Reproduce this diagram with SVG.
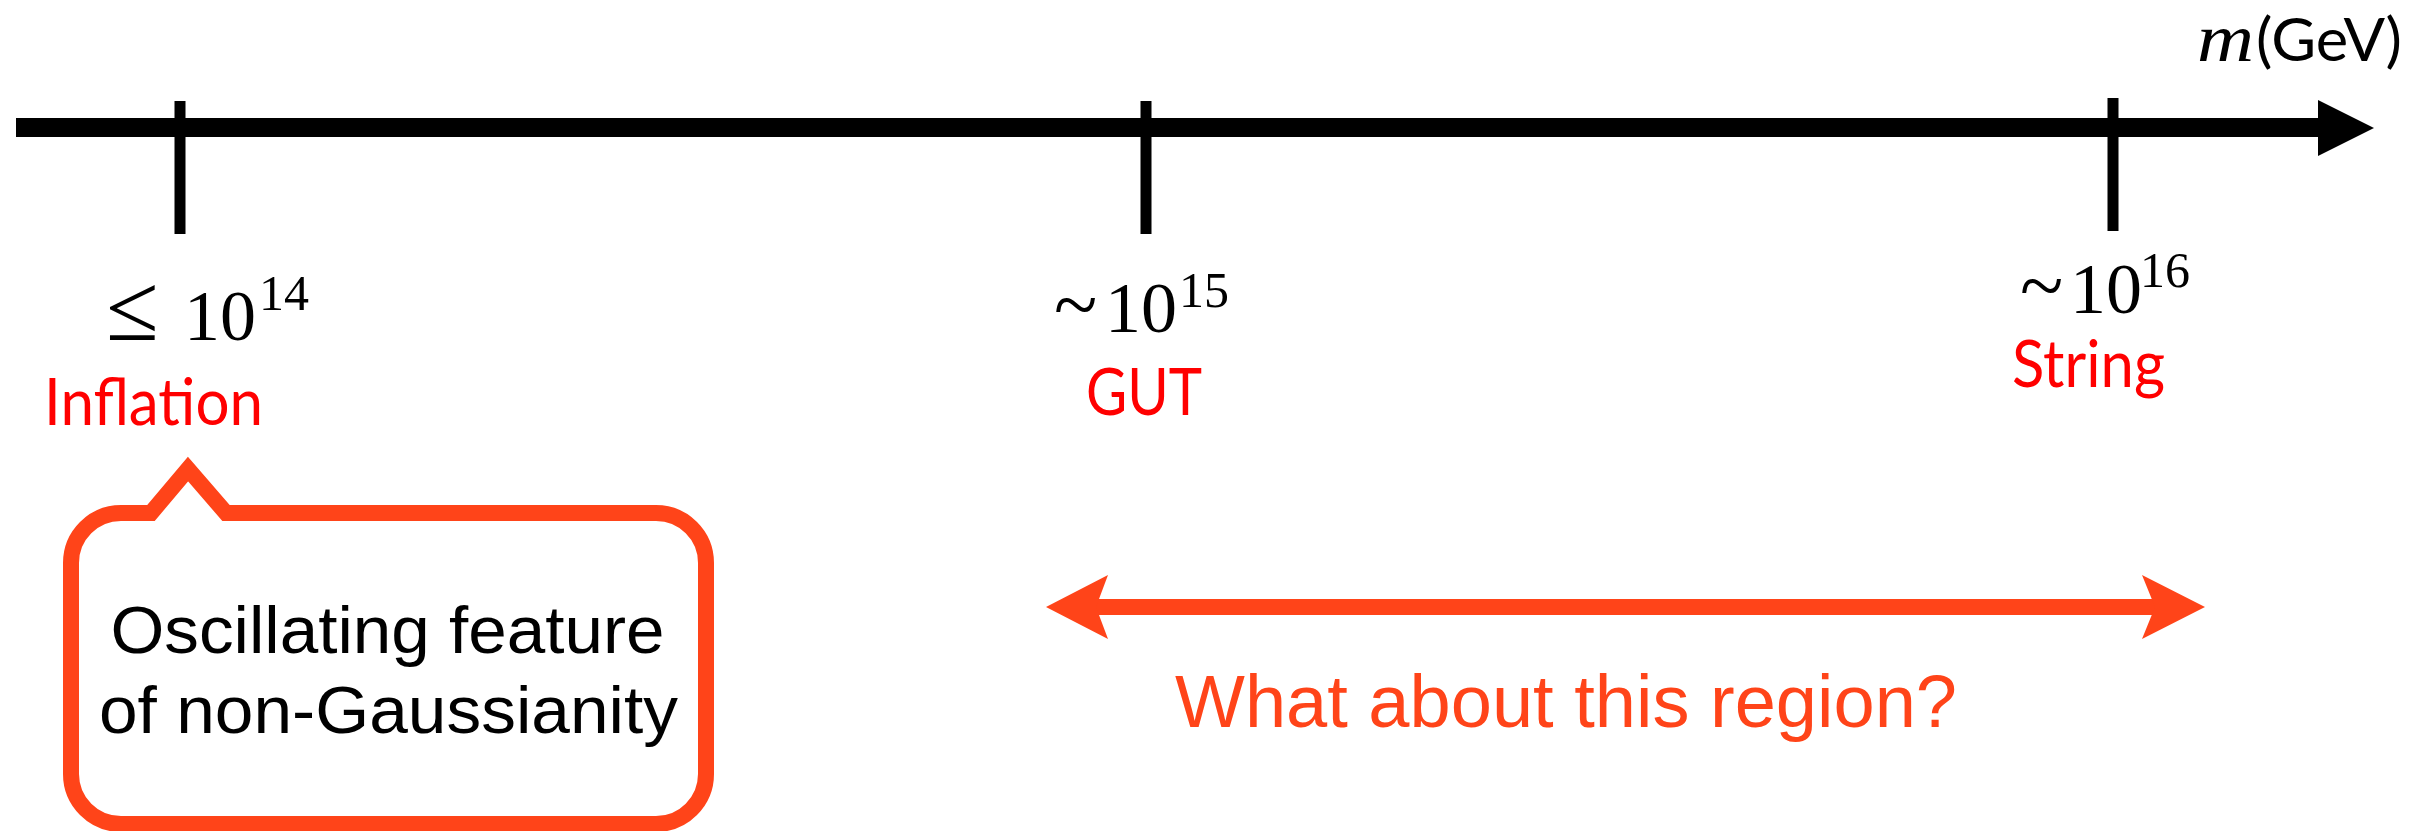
<svg xmlns="http://www.w3.org/2000/svg" width="2435" height="831" viewBox="0 0 2435 831">
  <style>
    .math { font-family: "Liberation Serif", "DejaVu Serif", serif; fill: #000; font-size: 72px; }
    .sup { font-size: 50px; }
    .red { font-family: Lato, "Open Sans", sans-serif; fill: #FF0000; font-size: 65px; }
    .callout-text { font-family: "Liberation Sans", Arial, sans-serif; fill: #000; font-size: 67px; }
    .orange { fill: #FF4419; }
    .tick { fill: #000; }
  </style>
  <rect width="2435" height="831" fill="#ffffff"/>

  <g id="axis">
    <line x1="16" y1="127.5" x2="2322" y2="127.5" stroke="#000" stroke-width="19"/>
    <polygon points="2318,100 2374,128 2318,156" fill="#000"/>
    <text x="2197" y="61" font-family="'Liberation Serif', serif" font-style="italic" font-size="67" fill="#000" textLength="57" lengthAdjust="spacingAndGlyphs">m</text>
    <text x="2256" y="61" font-family="Lato, 'Open Sans', sans-serif" font-size="60" fill="#000" textLength="146" lengthAdjust="spacingAndGlyphs">(GeV)</text>
  </g>

  <g id="node-inflation">
    <rect class="tick" x="174.5" y="101" width="11" height="133"/>
    <text y="340" class="math"><tspan x="106" font-size="96">≤</tspan><tspan x="184">10</tspan><tspan x="259" y="310" class="sup">14</tspan></text>
    <text x="44" y="425" class="red" textLength="219" lengthAdjust="spacingAndGlyphs">Inflation</text>
  </g>

  <g id="node-gut">
    <rect class="tick" x="1140.5" y="101" width="11" height="133"/>
    <text y="332" class="math"><tspan x="1054" font-size="80">~</tspan><tspan x="1105">10</tspan><tspan x="1179" y="307" class="sup">15</tspan></text>
    <text x="1086" y="415" class="red" textLength="116" lengthAdjust="spacingAndGlyphs">GUT</text>
  </g>

  <g id="node-string">
    <rect class="tick" x="2107.5" y="98" width="11" height="133"/>
    <text y="313" class="math"><tspan x="2020" font-size="80">~</tspan><tspan x="2070">10</tspan><tspan x="2140" y="287" class="sup">16</tspan></text>
    <text x="2012" y="387" class="red" textLength="153" lengthAdjust="spacingAndGlyphs">String</text>
  </g>

  <g id="node-callout">
    <path d="M121,513 H151 L188,469 L226,513 H656 A50,50 0 0 1 706,563 V774 A50,50 0 0 1 656,824 H121 A50,50 0 0 1 71,774 V563 A50,50 0 0 1 121,513 Z" fill="#ffffff" stroke="#FF4419" stroke-width="16" stroke-linejoin="miter"/>
    <text x="110.5" y="653" class="callout-text" textLength="554" lengthAdjust="spacingAndGlyphs">Oscillating feature</text>
    <text x="99" y="733" class="callout-text" textLength="579" lengthAdjust="spacingAndGlyphs">of non-Gaussianity</text>
  </g>

  <g id="connectors">
    <line x1="1094" y1="607" x2="2157" y2="607" stroke="#FF4419" stroke-width="16"/>
    <polygon class="orange" points="1046,607 1108,575 1096,607 1108,639"/>
    <polygon class="orange" points="2205,607 2142,575 2155,607 2142,639"/>
  </g>

  <g id="node-region">
    <text x="1175" y="727" font-family="'Liberation Sans', Arial, sans-serif" font-size="75" fill="#FF4419" textLength="782" lengthAdjust="spacingAndGlyphs">What about this region?</text>
  </g>
</svg>
